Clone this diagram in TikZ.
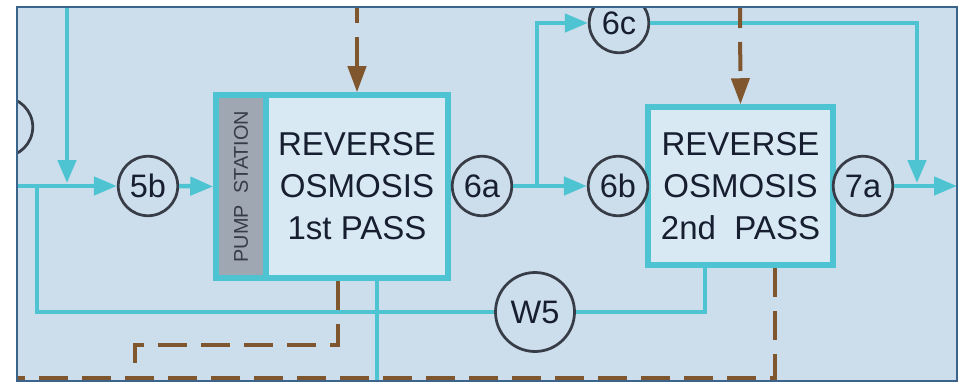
\documentclass[tikz,border=0pt]{standalone}
\usepackage{fontspec}
\setmainfont{Liberation Sans}
\usepackage{tikz}
\usetikzlibrary{
  arrows.meta,
  positioning
}
\usepackage{xcolor}
\definecolor{cbg}{RGB}{204,222,236}
\definecolor{cbox}{RGB}{217,233,244}
\definecolor{ccyan}{RGB}{78,196,211}
\definecolor{cbrown}{RGB}{128,86,46}
\definecolor{cframe}{RGB}{58,100,140}
\definecolor{cring}{RGB}{55,60,70}
\definecolor{cpump}{RGB}{158,167,178}
\definecolor{ctext}{RGB}{22,30,48}
\tikzset{
  station/.style={
    circle, draw=cring, line width=0.55mm, fill=cbg,
    minimum size=11.9mm, inner sep=0pt,
    font=\fontsize{18.5}{20}\selectfont, text=ctext
  },
  stationL/.style={
    station, minimum size=15.8mm
  },
  unit/.style={
    rectangle, draw=ccyan, fill=cbox, line width=1.1mm,
    inner sep=0pt, align=center,
    font=\fontsize{18.8}{23.9}\selectfont, text=ctext
  },
  pump/.style={
    rectangle, draw=ccyan, fill=cpump, line width=1.1mm,
    inner sep=0pt, font=\fontsize{11.3}{12}\selectfont, text=cring
  },
  water/.style={ccyan, line width=0.9mm},
  waterarr/.style={water, -{Triangle[length=4.6mm, width=3.6mm]}},
  dose/.style={cbrown, line width=0.8mm, dash pattern=on 5.8mm off 2.8mm},
  dosearr/.style={dose, -{Triangle[length=5.2mm, width=3.6mm]}}
}
\begin{document}
\begin{tikzpicture}[x=0.2mm, y=-0.2mm]

    \useasboundingbox (0,0) rectangle (959,383);

    \begin{scope}
    \clip (17,7) rectangle (957,381);
    \fill[cbg] (17,7) rectangle (957,381);

    %% Units
    \node[pump, minimum width=10mm, minimum height=36.6mm]
      (pump) at (241,186.5) {\rotatebox{90}{PUMP\ \ STATION}};
    \node[unit, minimum width=36.4mm, minimum height=36.6mm]
      (ro1) at (357,186.5) {REVERSE\\OSMOSIS\\1st PASS};
    \node[unit, minimum width=37mm, minimum height=31.6mm]
      (ro2) at (740.5,186) {REVERSE\\OSMOSIS\\2nd\ \ PASS};

    %% Sample points
    \node[station] (cprev) at (3,127) {};
    \node[station] (c5b) at (148,186) {5b};
    \node[station] (c6a) at (482,186) {6a};
    \node[station] (c6b) at (618,186) {6b};
    \node[station] (c6c) at (619,23) {6c};
    \node[station] (c7a) at (863,186) {7a};
    \node[stationL] (cW5) at (535,312) {W5};

    %% Free ends
    \coordinate (inL) at (17,186);
    \coordinate (topA) at (67,7);
    \coordinate (jA) at (67,183);
    \coordinate (jW) at (37,186);
    \coordinate (j6) at (537,186);
    \coordinate (d7) at (917,183);
    \coordinate (outR) at (957,186);
    \coordinate (ro1c) at (377,381);
    \coordinate (ro2w) at (705,265);
    \coordinate (topB) at (357,7);
    \coordinate (topC) at (740,7);
    \coordinate (dr1) at (338,345);
    \coordinate (dr1e) at (135,363);
    \coordinate (dr2) at (775,378);
    \coordinate (dr2e) at (17,378);

    %% Water lines
    \draw[waterarr] (inL) -- (c5b.west);
    \draw[waterarr] (topA) -- (jA);
    \draw[waterarr] (c5b.east) -- (pump.west);
    \draw[waterarr] (c6a.east) -- (c6b.west);
    \draw[waterarr] (j6) |- (c6c.west);
    \draw[waterarr] (c6c.east) -| (d7);
    \draw[waterarr] (c7a.east) -- (outR);
    \draw[water] (cW5.west) -| (jW);
    \draw[water] (ro2w) |- (cW5.east);
    \draw[water] (ro1.south -| ro1c) -- (ro1c);

    %% Chemical / drain lines
    \draw[dosearr, dash phase=2.6mm] (topB) -- (ro1.north);
    \draw[dosearr, dash phase=1.6mm] (topC) -- (ro2.north);
    \draw[dose] (ro1.south -| dr1) -- (dr1) -| (dr1e);
    \draw[dose] (ro2.south -| dr2) -- (dr2) -- (dr2e);
    \end{scope}

    %% Frame
    \draw[cframe, line width=0.45mm] (17,7) rectangle (957,381);

  \end{tikzpicture}
\end{document}
